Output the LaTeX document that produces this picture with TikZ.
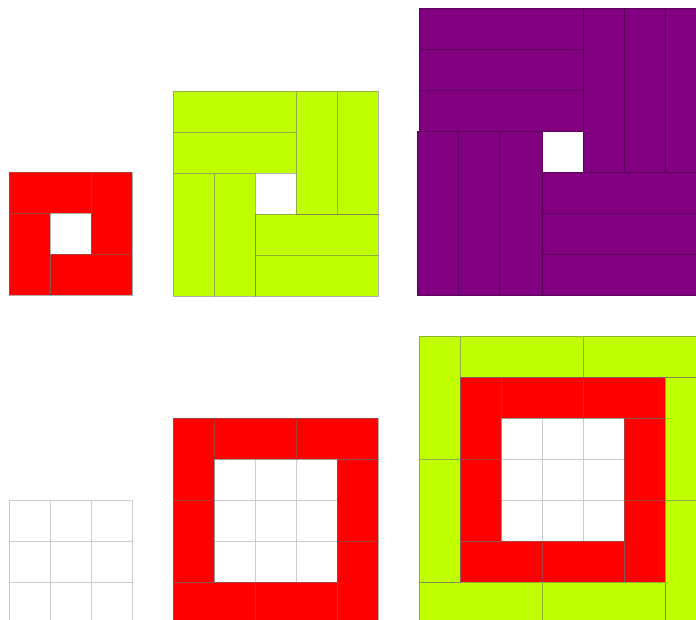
\documentclass[tikz,border=0pt]{standalone}
\usepackage{tikz}
\definecolor{tilered}{RGB}{255,0,0}
\definecolor{tilelime}{RGB}{191,255,0}
\definecolor{tilepurple}{RGB}{128,0,128}
\definecolor{tileedge}{RGB}{110,110,110}
\tikzset{
    tile/.style={draw=tileedge, draw opacity=0.55, line width=0.6pt},
    redtile/.style={tile, fill=tilered},
    limetile/.style={tile, fill=tilelime},
    purpletile/.style={tile, fill=tilepurple, draw=tilepurple!70!black, draw opacity=1},
    emptycell/.style={draw=tileedge, draw opacity=0.35, line width=0.6pt, fill=white}
}

\begin{document}
\begin{tikzpicture}[x=0.03cm, y=-0.03cm]
    \useasboundingbox (0,0) rectangle (696,620);

    % top row: pinwheels around one hole
    \begin{scope}[shift={(9,172)}, x=1.23cm, y=-1.23cm]
        \draw[redtile] (0,0) rectangle (2,1);
        \draw[redtile] (2,0) rectangle (3,2);
        \draw[redtile] (1,2) rectangle (3,3);
        \draw[redtile] (0,1) rectangle (1,3);
    \end{scope}

    \begin{scope}[shift={(173,91)}, x=1.23cm, y=-1.23cm]
        \foreach \r in {0,1} {
            \draw[limetile] (0,\r) rectangle (3,\r+1);
            \draw[limetile] (2,\r+3) rectangle (5,\r+4);
        }
        \foreach \c in {0,1} {
            \draw[limetile] (\c+3,0) rectangle (\c+4,3);
            \draw[limetile] (\c,2) rectangle (\c+1,5);
        }
    \end{scope}

    \begin{scope}[shift={(419,8)}, x=1.23cm, y=-1.23cm]
        \foreach \r in {0,1,2} {
            \draw[purpletile] (0,\r) rectangle (4,\r+1);
            \draw[purpletile] (3,\r+4) rectangle (7,\r+5);
        }
        \foreach \c in {0,1,2} {
            \draw[purpletile] (\c+4,0) rectangle (\c+5,4);
        }
        \foreach \c in {0,1,2} {
            \draw[purpletile] (\c-0.03,3) rectangle (\c+1,7);
        }
    \end{scope}

    % bottom row: rings around an empty block
    \begin{scope}[shift={(9,500)}, x=1.23cm, y=-1.23cm]
        \foreach \c in {0,1,2}
            \foreach \r in {0,1,2}
                \draw[emptycell] (\c,\r) rectangle (\c+1,\r+1);
    \end{scope}

    \begin{scope}[shift={(173,418)}, x=1.23cm, y=-1.23cm]
        \foreach \c in {1,2,3}
            \foreach \r in {1,2,3}
                \draw[emptycell] (\c,\r) rectangle (\c+1,\r+1);
        \foreach \k in {0,2} {
            \draw[redtile] (0,\k) rectangle (1,\k+2);
            \draw[redtile] (\k+1,0) rectangle (\k+3,1);
            \draw[redtile] (4,\k+1) rectangle (5,\k+3);
            \draw[redtile] (\k,4) rectangle (\k+2,5);
        }
    \end{scope}

    \begin{scope}[shift={(419,336)}, x=1.23cm, y=-1.23cm]
        \foreach \c in {2,3,4}
            \foreach \r in {2,3,4}
                \draw[emptycell] (\c,\r) rectangle (\c+1,\r+1);
        \foreach \k in {0,2} {
            \draw[redtile] (1,\k+1) rectangle (2,\k+3);
            \draw[redtile] (\k+2,1) rectangle (\k+4,2);
            \draw[redtile] (5,\k+2) rectangle (6,\k+4);
            \draw[redtile] (\k+1,5) rectangle (\k+3,6);
        }
        \foreach \k in {0,3} {
            \draw[limetile] (0,\k) rectangle (1,\k+3);
            \draw[limetile] (\k+1,0) rectangle (\k+4,1);
            \draw[limetile] (6,\k+1) rectangle (7,\k+4);
            \draw[limetile] (\k,6) rectangle (\k+3,7);
        }
    \end{scope}
\end{tikzpicture}
\end{document}
